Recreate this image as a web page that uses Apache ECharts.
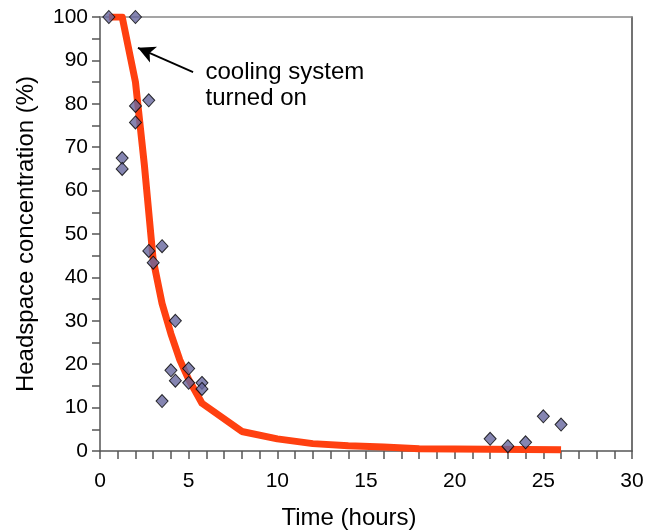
<!DOCTYPE html>
<html>
<head>
<meta charset="utf-8">
<script src="https://cdn.jsdelivr.net/npm/echarts@6/dist/echarts.min.js"></script>
<style>
  html, body { margin: 0; padding: 0; background: #fff; }
  #chart { width: 652px; height: 531px; }
</style>
</head>
<body>
<div id="chart"></div>
<script>
// Measured headspace concentration (%) against time (hours)
const measuredTime = [0.5, 2.0, 1.25, 1.25, 2.0, 2.0, 2.75, 2.75, 3.0, 3.5, 4.25, 4.0, 5.0, 4.25, 5.0, 5.75, 5.75, 3.5, 22, 23, 24, 25, 26];
const measuredConc = [100, 100, 67.5, 65.0, 79.5, 75.7, 80.8, 46.1, 43.4, 47.2, 30.0, 18.6, 19.0, 16.2, 15.7, 15.7, 14.3, 11.5, 2.8, 1.1, 2.0, 8.0, 6.1];

// Fitted decay curve
const modelTime = [0.5, 1.25, 2.0, 2.5, 3.0, 3.5, 4.0, 4.5, 5.0, 5.75, 8, 10, 12, 14, 16, 18, 20, 22, 24, 26];
const modelConc = [100, 100, 85, 66, 44, 34, 27, 21, 16.5, 11, 4.5, 2.8, 1.7, 1.2, 0.9, 0.5, 0.45, 0.4, 0.35, 0.3];

// Annotation: arrow from label towards the point where cooling starts
const noteText = 'cooling system\nturned on';
const arrowFrom = [5.25, 87.3];
const arrowTo = [2.14, 92.9];
const notePos = [5.95, 90.2];

const xLabels = [0, 5, 10, 15, 20, 25, 30];
const yLabels = [0, 10, 20, 30, 40, 50, 60, 70, 80, 90, 100];

const FONT = 'Liberation Sans, Arial, sans-serif';
const chart = echarts.init(document.getElementById('chart'));

const pairs = (xs, ys) => xs.map((x, i) => [x, ys[i]]);

chart.setOption({
  animation: false,
  backgroundColor: '#fff',
  grid: { left: 100, right: 20, top: 17, bottom: 80, containLabel: false, outerBoundsMode: 'none' },
  xAxis: [{
    type: 'value', min: 0, max: 30, interval: 1,
    name: 'Time (hours)', nameLocation: 'middle', nameGap: 55,
    nameTextStyle: { fontFamily: FONT, fontSize: 24, color: '#000', padding: [0, 34, 0, 0] },
    axisLine: { onZero: false, lineStyle: { color: '#555', width: 1.5 } },
    axisTick: { show: true, inside: false, length: 8, lineStyle: { color: '#555', width: 1.5 } },
    axisLabel: {
      margin: 20, fontFamily: FONT, fontSize: 21, color: '#000',
      formatter: v => (xLabels.indexOf(v) >= 0 ? String(v) : '')
    },
    splitLine: { show: false }
  }, {
    type: 'value', min: 0, max: 30, position: 'top',
    axisLine: { show: true, onZero: false, lineStyle: { color: '#888', width: 1.5 } },
    axisTick: { show: false }, axisLabel: { show: false }, splitLine: { show: false }
  }],
  yAxis: [{
    type: 'value', min: 0, max: 100, interval: 5,
    name: 'Headspace concentration (%)', nameLocation: 'middle', nameGap: 62,
    nameTextStyle: { fontFamily: FONT, fontSize: 24, color: '#000' },
    axisLine: { show: true, onZero: false, lineStyle: { color: '#555', width: 1.5 } },
    axisTick: { show: true, inside: false, length: 8, lineStyle: { color: '#555', width: 1.5 } },
    axisLabel: {
      margin: 12, fontFamily: FONT, fontSize: 21, color: '#000',
      formatter: v => (yLabels.indexOf(v) >= 0 ? String(v) : '')
    },
    splitLine: { show: false }
  }, {
    type: 'value', min: 0, max: 100, position: 'right',
    axisLine: { show: true, onZero: false, lineStyle: { color: '#444', width: 1.5 } },
    axisTick: { show: false }, axisLabel: { show: false }, splitLine: { show: false }
  }],
  series: [{
    name: 'model',
    type: 'line',
    data: pairs(modelTime, modelConc),
    showSymbol: false,
    symbol: 'none',
    lineStyle: { color: '#ff4010', width: 7, join: 'round' },
    z: 2,
    markLine: {
      silent: true,
      symbol: ['none', 'arrow'],
      symbolSize: [13, 17],
      label: { show: false },
      lineStyle: { color: '#000', width: 1.8, type: 'solid' },
      data: [[{ coord: arrowFrom }, { coord: arrowTo }]]
    }
  }, {
    name: 'measured',
    type: 'scatter',
    data: pairs(measuredTime, measuredConc),
    symbol: 'diamond',
    symbolSize: [12, 13],
    itemStyle: { color: '#67679d', borderColor: '#000', borderWidth: 1 },
    z: 3
  }]
});

// Place the annotation text in data coordinates
const p = chart.convertToPixel({ gridIndex: 0 }, notePos);
chart.setOption({
  graphic: [{
    type: 'text', left: p[0], top: p[1],
    style: { text: noteText, fontFamily: FONT, fontSize: 24, lineHeight: 26, fill: '#000' }
  }]
});
</script>
</body>
</html>
